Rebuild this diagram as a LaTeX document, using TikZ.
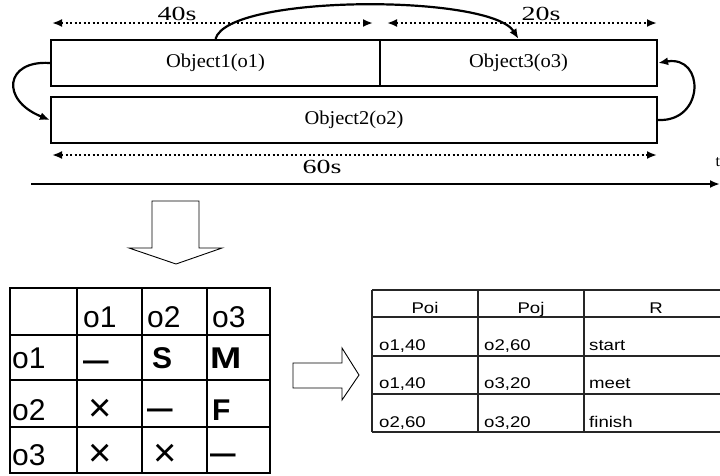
\documentclass[tikz,border=0pt]{standalone}
\usepackage{fontspec}
\usepackage{graphicx}
\setmainfont{Liberation Serif}
\newfontfamily\objfont[FakeStretch=1.05]{Liberation Serif}
\newfontfamily\durfont[FakeStretch=1.4]{Liberation Serif}
\newfontfamily\gridfont{Liberation Sans}
\newfontfamily\relfont[FakeStretch=1.2]{Liberation Sans}
\usetikzlibrary{arrows.meta}

\tikzset{
  objbox/.style={draw, line width=2.2pt, minimum height=46pt, inner sep=0pt,
    font=\objfont\fontsize{19.5}{22}\selectfont},
  durspan/.style={line width=2.5pt, dash pattern=on 2.2pt off 2.3pt,
    {Latex[length=10pt,width=8pt]}-{Latex[length=10pt,width=8pt]}},
  durlabel/.style={anchor=base, inner sep=0pt, font=\durfont\fontsize{20}{22}\selectfont},
  relarc/.style={line width=2.2pt, -{Latex[length=10pt,width=8pt]}},
  hollow/.style={draw, line width=0.9pt, fill=white, line join=miter},
  gridline/.style={line width=2.2pt},
  gcell/.style={anchor=base west, inner sep=0pt, font=\gridfont\fontsize{30}{34}\selectfont},
  gbold/.style={gcell, font=\gridfont\bfseries\fontsize{30}{34}\selectfont},
  gcross/.style={gcell, font=\gridfont\fontsize{40}{42}\selectfont},
  relline/.style={line width=1.1pt, black!85},
  relcell/.style={anchor=base west, inner sep=0pt, font=\relfont\fontsize{15.5}{18}\selectfont},
  relhead/.style={relcell, anchor=base},
}

\begin{document}
\begin{tikzpicture}[x=1pt,y=-1pt]
\useasboundingbox (0,0) rectangle (720,475);
\clip (0,0) rectangle (720,475);
\fill[white] (0,0) rectangle (720,475);

% --- objects on the time line ---
\node[objbox, minimum width=329pt] (o1) at (215.5,63) {Object1(o1)};
\node[objbox, minimum width=277pt] (o3) at (518.5,63) {Object3(o3)};
\node[objbox, minimum width=606pt] (o2) at (354,120) {Object2(o2)};

% --- durations ---
\coordinate (s40a) at (52,23);  \coordinate (s40b) at (373,23);
\coordinate (s20a) at (387,23); \coordinate (s20b) at (657,23);
\coordinate (s60a) at (52,155); \coordinate (s60b) at (657,155);
\draw[durspan] (s40a) -- (s40b);
\draw[durspan] (s20a) -- (s20b);
\draw[durspan] (s60a) -- (s60b);
\node[durlabel] (l40) at (177,20) {40s};
\node[durlabel] (l20) at (541,20) {20s};
\node[durlabel] (l60) at (322,173) {60s};

% --- relations between objects ---
\draw[relarc] (o1.north) .. controls (228,-6) and (490,-6) .. (o3.north);
\draw[relarc] (o1.west) .. controls (5,60) and (0,100) .. (o2.west);
\draw[relarc] (o2.east) .. controls (705,122) and (705,55) .. (o3.east);

% --- time axis ---
\coordinate (t0) at (31,184); \coordinate (t1) at (720,184);
\draw[line width=2.8pt, -{Latex[length=10pt,width=8pt]}] (t0) -- (t1);
\node[anchor=base west, inner sep=0pt, font=\fontsize{16}{16}\selectfont] (tlab) at (715.5,166) {t};

% --- hollow arrows ---
\draw[hollow] (152,201) -- (199,201) -- (199,248) -- (222,248) -- (176,264)
  -- (129,248) -- (152,248) -- cycle;
\draw[hollow] (293,363) -- (342,363) -- (342,348) -- (359,375) -- (342,400)
  -- (342,388) -- (293,388) -- cycle;

% --- relation matrix ---
\draw[gridline] (10,288) rectangle (270,473);
\foreach \x in {77,142,207} \draw[gridline] (\x,288) -- (\x,473);
\foreach \y in {335,380,427} \draw[gridline] (10,\y) -- (270,\y);

\node[gcell] (h1) at (83,327) {o1};
\node[gcell] (h2) at (147,327) {o2};
\node[gcell] (h3) at (212,327) {o3};
\node[gcell] (r1) at (12,368) {o1};
\node[gcell] (r2) at (12,420) {o2};
\node[gcell] (r3) at (12,465) {o3};

\node[gbold] (c11) at (83,370) {\scalebox{0.85}[1]{—}};
\node[gbold] (c12) at (152,368) {S};
\node[gbold] (c13) at (210,368) {\scalebox{1.25}[1]{M}};
\node[gcross] (c21) at (88,421) {×};
\node[gbold] (c22) at (147,418) {\scalebox{0.85}[1]{—}};
\node[gbold] (c23) at (212,420) {F};
\node[gcross] (c31) at (88,466) {×};
\node[gcross] (c32) at (153,466) {×};
\node[gbold] (c33) at (210,463) {\scalebox{0.85}[1]{—}};

% --- relation list ---
\foreach \y in {290,317,356,394,432} \draw[relline] (372,\y) -- (720,\y);
\foreach \x in {372,478,584} \draw[relline] (\x,290) -- (\x,432);

\node[relhead] (pi) at (425,313) {Poi};
\node[relhead] (pj) at (531,313) {Poj};
\node[relhead] (rr) at (656,313) {R};

\node[relcell] (a1) at (379,350) {o1,40};
\node[relcell] (b1) at (484,350) {o2,60};
\node[relcell] (e1) at (589,350) {start};
\node[relcell] (a2) at (379,388) {o1,40};
\node[relcell] (b2) at (484,388) {o3,20};
\node[relcell] (e2) at (589,388) {meet};
\node[relcell] (a3) at (379,427) {o2,60};
\node[relcell] (b3) at (484,427) {o3,20};
\node[relcell] (e3) at (589,427) {finish};
\end{tikzpicture}
\end{document}
